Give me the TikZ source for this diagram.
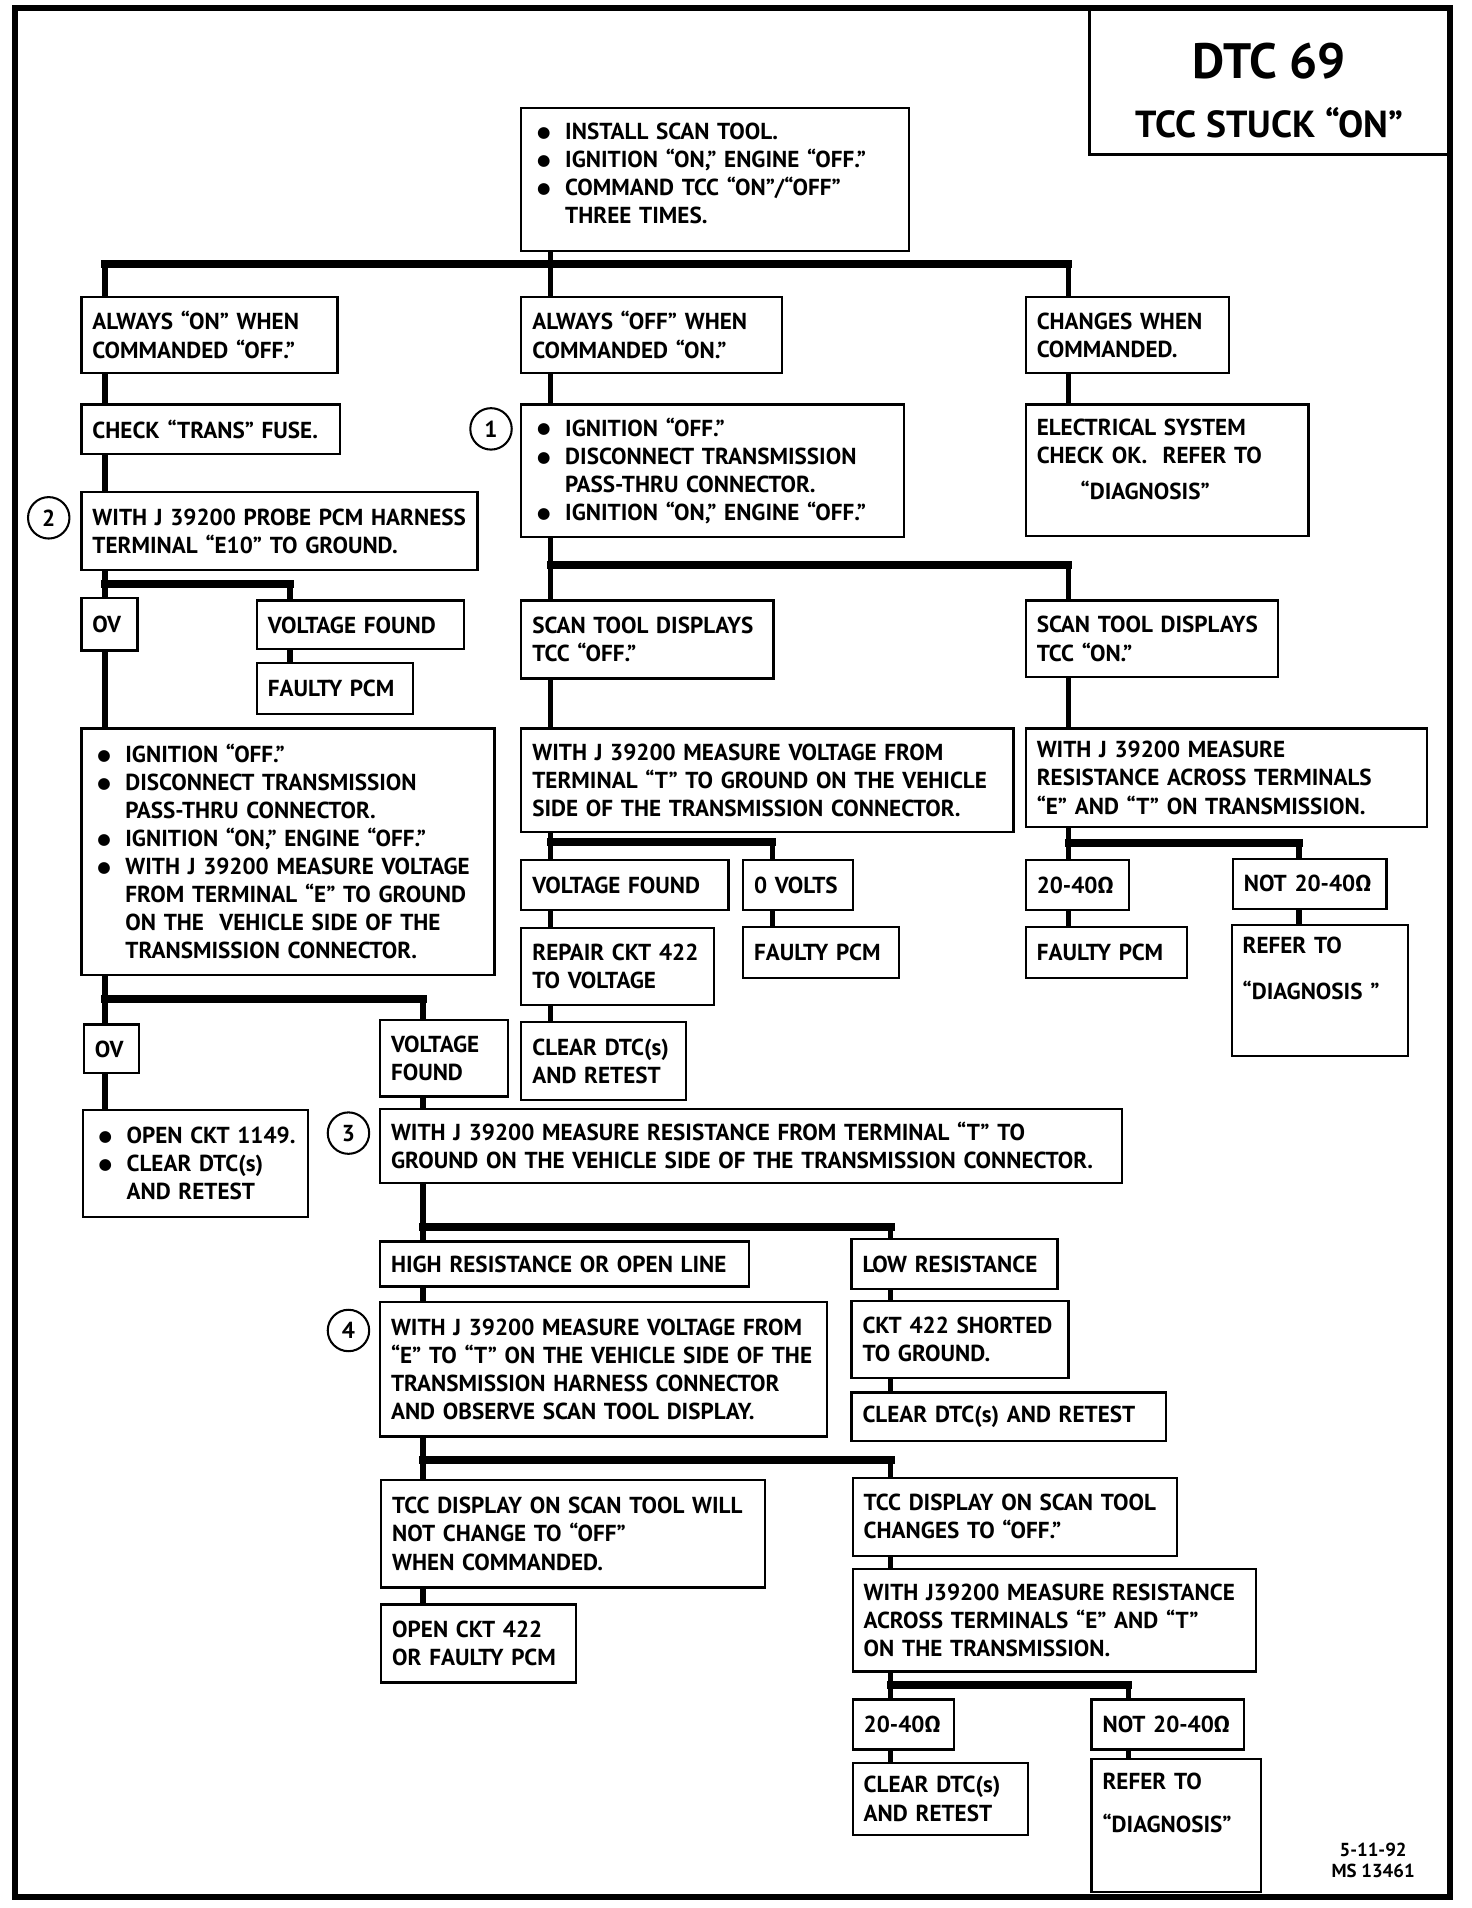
\documentclass[tikz,border=0pt]{standalone}
\usepackage{fontspec}
\setmainfont{PT Sans}
\newfontfamily\grk{Fira Sans}
\newfontfamily\dvu{DejaVu Sans}
\usetikzlibrary{calc, positioning}

\newcommand{\bul}{\hspace*{0.1cm}\makebox[0.575cm][l]{\raisebox{1.3pt}{\dvu\fontsize{9}{10}\selectfont ●}}}
\newcommand{\ind}{\hspace*{0.675cm}}
\newcommand{\ohm}{{\grk Ω}}
\newcommand{\lift}[1]{\rule[-#1]{0pt}{0pt}}

\begin{document}
\begin{tikzpicture}[
		x=0.025cm, y=-0.025cm,
		font=\fontsize{13.5}{16.4}\selectfont\bfseries,
		box/.style n args={2}{draw, line width=1.3pt, rectangle, anchor=north west,
			inner xsep=0.225cm, inner ysep=0pt, align=left,
			/utils/exec={\pgfmathsetlengthmacro\boxtw{#1*0.025cm-0.45cm}},
			text width=\boxtw, minimum height=#2*0.025cm},
		num/.style={circle, draw, line width=1.2pt, minimum size=0.85cm, inner sep=0pt},
		link/.style={line width=3.2pt},
		bus/.style={line width=4.6pt, line cap=rect}
		]
		\useasboundingbox (0,0) rectangle (1208,1566);
		
		% Cadre et titre
		\draw[line width=3.5pt] (12,6.5) rectangle (1190,1557);
		\node[draw, line width=1.5pt, anchor=north west, minimum width=7.425cm, minimum height=2.975cm] (title) at (893,6.5) {};
		\node[font=\fontsize{29}{34}\selectfont\bfseries] (dtc) at (1042,50) {DTC 69};
		\node[font=\fontsize{22}{26}\selectfont\bfseries] (stuck) at (1042,101) {TCC STUCK ``ON''};
		
		% Colonnes et niveaux des liaisons
		\coordinate (cA) at (86,0);
		\coordinate (cA2) at (238,0);
		\coordinate (cB) at (452,0);
		\coordinate (cB2) at (634,0);
		\coordinate (cC) at (877,0);
		\coordinate (cC2) at (1066,0);
		\coordinate (cD) at (347,0);
		\coordinate (cE) at (731,0);
		\coordinate (cE2) at (926,0);
		\coordinate (b1) at (0,217);
		\coordinate (b2) at (0,464);
		\coordinate (b3) at (0,479);
		\coordinate (b4) at (0,691);
		\coordinate (b5) at (0,692);
		\coordinate (b6) at (0,820);
		\coordinate (b7) at (0,1007);
		\coordinate (b8) at (0,1198);
		\coordinate (b9) at (0,1383);
		
		% Les cases
		\node[box={318}{117}] (top) at (427,88) {\bul INSTALL SCAN TOOL.\\ \bul IGNITION ``ON,'' ENGINE ``OFF.''\\ \bul COMMAND TCC ``ON''/``OFF''\\ \ind THREE TIMES.\lift{0.25cm}};
		\node[box={210}{62}] (A1) at (66,243) {ALWAYS ``ON'' WHEN\\COMMANDED ``OFF.''};
		\node[box={214}{62}] (A2) at (427,243) {ALWAYS ``OFF'' WHEN\\COMMANDED ``ON.''};
		\node[box={167}{62}] (A3) at (841,243) {CHANGES WHEN\\COMMANDED.};
		
		\node[box={212}{41}] (fuse) at (66,331) {CHECK ``TRANS'' FUSE.};
		\node[box={325}{64}] (probe) at (66,403) {WITH J 39200 PROBE PCM HARNESS\\TERMINAL ``E10'' TO GROUND.};
		\node[box={46}{43}] (ovA) at (66,490) {OV};
		\node[box={170}{40}] (vfA) at (210,492) {VOLTAGE FOUND};
		\node[box={128}{42}] (pcmA) at (210,543) {FAULTY PCM};
		\node[box={339}{202}] (bigA) at (66,597) {\bul IGNITION ``OFF.''\\ \bul DISCONNECT TRANSMISSION\\ \ind PASS-THRU CONNECTOR.\\ \bul IGNITION ``ON,'' ENGINE ``OFF.''\\ \bul WITH J 39200 MEASURE VOLTAGE\\ \ind FROM TERMINAL ``E'' TO GROUND\\ \ind ON THE\ \ VEHICLE SIDE OF THE\\ \ind TRANSMISSION CONNECTOR.};
		\node[box={45}{40}] (ovB) at (68,840) {OV};
		\node[box={105}{63}] (vfB) at (311,836) {VOLTAGE\\FOUND};
		\node[box={185}{88}] (open1149) at (67,910) {\bul OPEN CKT 1149.\\ \bul CLEAR DTC(s)\\ \ind AND RETEST};
		
		\node[box={314}{109}] (stepB) at (427,331) {\bul IGNITION ``OFF.''\\ \bul DISCONNECT TRANSMISSION\\ \ind PASS-THRU CONNECTOR.\\ \bul IGNITION ``ON,'' ENGINE ``OFF.''};
		\node[box={232}{108}] (elec) at (841,331) {ELECTRICAL SYSTEM\\CHECK OK.\ \ REFER TO\\[0.15cm] \hspace*{0.9cm}``DIAGNOSIS''\lift{0.45cm}};
		\node[box={207}{64}] (scanoff) at (427,492) {SCAN TOOL DISPLAYS\\TCC ``OFF.''};
		\node[box={207}{63}] (scanon) at (841,492) {SCAN TOOL DISPLAYS\\TCC ``ON.''};
		\node[box={404}{85}] (measV) at (427,597) {WITH J 39200 MEASURE VOLTAGE FROM\\TERMINAL ``T'' TO GROUND ON THE VEHICLE\\SIDE OF THE TRANSMISSION CONNECTOR.};
		\node[box={329}{81}] (measR) at (841,597) {WITH J 39200 MEASURE\\RESISTANCE ACROSS TERMINALS\\``E'' AND ``T'' ON TRANSMISSION.};
		\node[box={170}{41}] (vfC) at (427,705) {VOLTAGE FOUND};
		\node[box={90}{41}] (zeroV) at (609,705) {0 VOLTS};
		\node[box={158}{63}] (repair) at (427,761) {REPAIR CKT 422\\TO VOLTAGE};
		\node[box={135}{64}] (clearC) at (427,838) {CLEAR DTC(s)\\AND RETEST};
		\node[box={128}{42}] (pcmC) at (609,760) {FAULTY PCM};
		\node[box={85}{41}] (okR) at (841,705) {20-40\ohm};
		\node[box={126}{41}] (notR) at (1011,704) {NOT 20-40\ohm};
		\node[box={132}{42}] (pcmR) at (841,760) {FAULTY PCM};
		\node[box={145}{108}] (referR) at (1010,758) {REFER TO\\[0.375cm]``DIAGNOSIS ''\lift{0.9cm}};
		
		\node[box={609}{61}] (step3) at (311,909) {WITH J 39200 MEASURE RESISTANCE FROM TERMINAL ``T'' TO\\GROUND ON THE VEHICLE SIDE OF THE TRANSMISSION CONNECTOR.};
		\node[box={303}{37}] (highR) at (311,1018) {HIGH RESISTANCE OR OPEN LINE};
		\node[box={169}{41}] (lowR) at (698,1016) {LOW RESISTANCE};
		\node[box={178}{63}] (short) at (698,1067) {CKT 422 SHORTED\\TO GROUND.};
		\node[box={258}{40}] (clearD) at (698,1142) {CLEAR DTC(s) AND RETEST};
		\node[box={367}{110}] (step4) at (311,1068) {WITH J 39200 MEASURE VOLTAGE FROM\\``E'' TO ``T'' ON THE VEHICLE SIDE OF THE\\TRANSMISSION HARNESS CONNECTOR\\AND OBSERVE SCAN TOOL DISPLAY.};
		\node[box={315}{88}] (willnot) at (312,1214) {TCC DISPLAY ON SCAN TOOL WILL\\NOT CHANGE TO ``OFF''\\WHEN COMMANDED.};
		\node[box={160}{64}] (open422) at (312,1316) {OPEN CKT 422\\OR FAULTY PCM};
		\node[box={266}{64}] (changes) at (699,1212) {TCC DISPLAY ON SCAN TOOL\\CHANGES TO ``OFF.''};
		\node[box={331}{84}] (measR2) at (699,1287) {WITH J39200 MEASURE RESISTANCE\\ACROSS TERMINALS ``E'' AND ``T''\\ON THE TRANSMISSION.};
		\node[box={83}{41}] (okE) at (699,1394) {20-40\ohm};
		\node[box={125}{41}] (notE) at (895,1394) {NOT 20-40\ohm};
		\node[box={144}{59}] (clearE) at (699,1446) {CLEAR DTC(s)\\AND RETEST};
		\node[box={139}{109}] (referE) at (895,1443) {REFER TO\\[0.3cm]``DIAGNOSIS''\lift{0.95cm}};
		
		% Les numeros
		\node[num] (n1) at (403,352) {1};
		\node[num] (n2) at (40,425) {2};
		\node[num] (n3) at (286,930) {3};
		\node[num] (n4) at (286,1092) {4};
		
		\node[font=\fontsize{11}{12.5}\selectfont\bfseries, align=center] (date) at (1127,1527) {5-11-92\\MS 13461};
		
		% Les liaisons
		\draw[link] (top.south -| cB) -- (A2.north -| cB);
		\draw[link] (b1 -| cA) -- (A1.north -| cA);
		\draw[link] (b1 -| cC) -- (A3.north -| cC);
		\draw[bus] (b1 -| cA) -- (b1 -| cC);
		
		\draw[link] (A1.south -| cA) -- (fuse.north -| cA);
		\draw[link] (fuse.south -| cA) -- (probe.north -| cA);
		\draw[link] (probe.south -| cA) -- (ovA.north -| cA);
		\draw[link] (b3 -| cA2) -- (vfA.north -| cA2);
		\draw[bus] (b3 -| cA) -- (b3 -| cA2);
		\draw[link] (vfA.south -| cA2) -- (pcmA.north -| cA2);
		\draw[link] (ovA.south -| cA) -- (bigA.north -| cA);
		\draw[link] (bigA.south -| cA) -- (ovB.north -| cA);
		\draw[link] (b6 -| cD) -- (vfB.north -| cD);
		\draw[bus] (b6 -| cA) -- (b6 -| cD);
		\draw[link] (ovB.south -| cA) -- (open1149.north -| cA);
		
		\draw[link] (A2.south -| cB) -- (stepB.north -| cB);
		\draw[link] (stepB.south -| cB) -- (scanoff.north -| cB);
		\draw[link] (b2 -| cC) -- (scanon.north -| cC);
		\draw[bus] (b2 -| cB) -- (b2 -| cC);
		\draw[link] (A3.south -| cC) -- (elec.north -| cC);
		\draw[link] (scanoff.south -| cB) -- (measV.north -| cB);
		\draw[link] (scanon.south -| cC) -- (measR.north -| cC);
		\draw[link] (measV.south -| cB) -- (vfC.north -| cB);
		\draw[link] (b4 -| cB2) -- (zeroV.north -| cB2);
		\draw[bus] (b4 -| cB) -- (b4 -| cB2);
		\draw[link] (vfC.south -| cB) -- (repair.north -| cB);
		\draw[link] (repair.south -| cB) -- (clearC.north -| cB);
		\draw[link] (zeroV.south -| cB2) -- (pcmC.north -| cB2);
		\draw[link] (measR.south -| cC) -- (okR.north -| cC);
		\draw[link] (b5 -| cC2) -- (notR.north -| cC2);
		\draw[bus] (b5 -| cC) -- (b5 -| cC2);
		\draw[link] (okR.south -| cC) -- (pcmR.north -| cC);
		\draw[link] (notR.south -| cC2) -- (referR.north -| cC2);
		
		\draw[link] (vfB.south -| cD) -- (step3.north -| cD);
		\draw[link] (step3.south -| cD) -- (highR.north -| cD);
		\draw[link] (b7 -| cE) -- (lowR.north -| cE);
		\draw[bus] (b7 -| cD) -- (b7 -| cE);
		\draw[link] (highR.south -| cD) -- (step4.north -| cD);
		\draw[link] (lowR.south -| cE) -- (short.north -| cE);
		\draw[link] (short.south -| cE) -- (clearD.north -| cE);
		\draw[link] (step4.south -| cD) -- (willnot.north -| cD);
		\draw[link] (b8 -| cE) -- (changes.north -| cE);
		\draw[bus] (b8 -| cD) -- (b8 -| cE);
		\draw[link] (willnot.south -| cD) -- (open422.north -| cD);
		\draw[link] (changes.south -| cE) -- (measR2.north -| cE);
		\draw[link] (measR2.south -| cE) -- (okE.north -| cE);
		\draw[link] (b9 -| cE2) -- (notE.north -| cE2);
		\draw[bus] (b9 -| cE) -- (b9 -| cE2);
		\draw[link] (okE.south -| cE) -- (clearE.north -| cE);
		\draw[link] (notE.south -| cE2) -- (referE.north -| cE2);
	\end{tikzpicture}
\end{document}
